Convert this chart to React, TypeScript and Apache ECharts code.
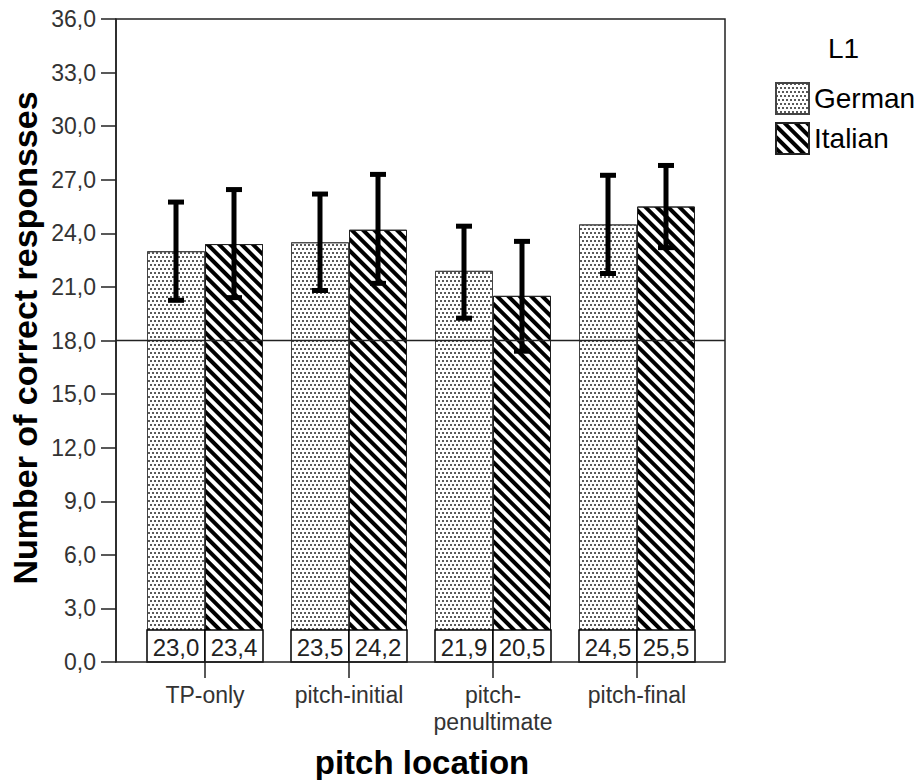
import React, { useEffect, useRef } from 'react';
import * as echarts from 'echarts';

const categories = ['TP-only', 'pitch-initial', 'pitch-\npenultimate', 'pitch-final'];
const groupNames = ['German', 'Italian'];
const germanMeans = [23.0, 23.5, 21.9, 24.5];
const italianMeans = [23.4, 24.2, 20.5, 25.5];
const germanLow = [20.25, 20.8, 19.25, 21.75];
const germanHigh = [25.75, 26.2, 24.4, 27.25];
const italianLow = [20.4, 21.2, 17.4, 23.2];
const italianHigh = [26.45, 27.3, 23.55, 27.8];
const yMin = 0;
const yMax = 36;
const yInterval = 3;
const referenceValue = 18;
const legendTitle = 'L1';
const xTitle = 'pitch location';
const yTitle = 'Number of correct responsses';

const FONT = '"Liberation Sans", Arial, sans-serif';
const BAR_WIDTH = 58;
const LABEL_BOX_H = 32;

const fmt = (v: number) => v.toFixed(1).replace('.', ',');

const germanDecal = {
  symbol: 'rect',
  symbolSize: 1,
  color: '#5a5a5a',
  backgroundColor: '#ffffff',
  dashArrayX: [[1.5, 1.5], [0, 1.5, 1.5, 0]],
  dashArrayY: [1.5, 1.5],
  rotation: 0,
};

const italianDecal = {
  symbol: 'rect',
  symbolSize: 1,
  color: '#000000',
  backgroundColor: '#ffffff',
  dashArrayX: [1, 0],
  dashArrayY: [4, 3.5],
  rotation: Math.PI / 4,
};

function errorSeries(name: string, low: number[], high: number[], side: number) {
  return {
    type: 'custom',
    name,
    xAxisIndex: 1,
    yAxisIndex: 1,
    z: 4,
    encode: { x: 0, y: [1, 2] },
    data: low.map((l, i) => [i, l, high[i]]),
    renderItem: (params: any, api: any) => {
      const idx = api.value(0);
      const lo = api.coord([idx, api.value(1)]);
      const hi = api.coord([idx, api.value(2)]);
      const x = lo[0] + side * BAR_WIDTH / 2;
      const st = { stroke: '#000', lineWidth: 5 };
      return {
        type: 'group',
        children: [
          { type: 'line', shape: { x1: x, y1: lo[1], x2: x, y2: hi[1] }, style: st },
          { type: 'line', shape: { x1: x - 8, y1: lo[1], x2: x + 8, y2: lo[1] }, style: st },
          { type: 'line', shape: { x1: x - 8, y1: hi[1], x2: x + 8, y2: hi[1] }, style: st },
        ],
      };
    },
  };
}

function labelSeries(name: string, values: number[], side: number) {
  return {
    type: 'custom',
    name,
    xAxisIndex: 1,
    yAxisIndex: 1,
    z: 3,
    encode: { x: 0, y: 1 },
    data: values.map((v, i) => [i, v]),
    renderItem: (params: any, api: any) => {
      const idx = api.value(0);
      const base = api.coord([idx, 0]);
      const x0 = base[0] + (side < 0 ? -BAR_WIDTH : 0);
      return {
        type: 'group',
        children: [
          {
            type: 'rect',
            shape: { x: x0, y: base[1] - LABEL_BOX_H, width: BAR_WIDTH, height: LABEL_BOX_H },
            style: { fill: '#fff', stroke: '#000', lineWidth: 1.5 },
          },
          {
            type: 'text',
            x: x0 + BAR_WIDTH / 2,
            y: base[1] - LABEL_BOX_H / 2 + 1,
            style: {
              text: fmt(api.value(1)),
              textAlign: 'center',
              textVerticalAlign: 'middle',
              font: `24px ${FONT}`,
              fill: '#222',
            },
          },
        ],
      };
    },
  };
}

export default function App() {
  const ref = useRef<HTMLDivElement>(null);

  useEffect(() => {
    document.body.style.margin = '0';
    if (!ref.current) return;
    const chart = echarts.init(ref.current, undefined, { renderer: 'svg' });
    const option: any = {
      animation: false,
      backgroundColor: '#fff',
      textStyle: { fontFamily: FONT },
      grid: [
        { left: 116, top: 19, width: 609, height: 643, show: true, borderColor: '#222', borderWidth: 1.5, backgroundColor: 'transparent', z: 6 },
        { left: 133, top: 19, width: 576, height: 643 },
      ],
      xAxis: [
        { gridIndex: 0, type: 'value', min: 0, max: 1, show: false },
        {
          gridIndex: 1,
          type: 'category',
          data: categories,
          axisLine: { show: false },
          axisTick: { show: true, alignWithLabel: true, length: 16, lineStyle: { color: '#222', width: 1.5 } },
          axisLabel: { fontSize: 23, color: '#333', margin: 19, lineHeight: 27, interval: 0, fontFamily: FONT },
          splitLine: { show: false },
        },
      ],
      yAxis: [
        {
          gridIndex: 0,
          type: 'value',
          min: yMin,
          max: yMax,
          interval: yInterval,
          axisLine: { show: true, lineStyle: { color: '#222', width: 1.5 } },
          axisTick: { show: true, length: 15, lineStyle: { color: '#222', width: 1.5 } },
          axisLabel: { fontSize: 23, color: '#333', margin: 20, fontFamily: FONT, formatter: (v: number) => fmt(v) },
          splitLine: { show: false },
        },
        { gridIndex: 1, type: 'value', min: yMin, max: yMax, interval: yInterval, show: false, splitLine: { show: false } },
      ],
      legend: {
        data: groupNames,
        orient: 'vertical',
        left: 770,
        top: 77,
        itemWidth: 33,
        itemHeight: 31,
        itemGap: 7,
        icon: 'rect',
        textStyle: { fontSize: 28, color: '#000', fontFamily: FONT },
      },
      title: {
        text: legendTitle,
        left: 823,
        top: 29,
        textStyle: { fontSize: 28, fontWeight: 'normal', color: '#000', fontFamily: FONT },
      },
      graphic: [
        {
          type: 'text',
          x: 422,
          y: 762,
          style: { text: xTitle, font: `bold 33px ${FONT}`, textAlign: 'center', textVerticalAlign: 'middle', fill: '#000' },
        },
        {
          type: 'text',
          x: 25,
          y: 338,
          rotation: Math.PI / 2,
          style: { text: yTitle, font: `bold 34px ${FONT}`, textAlign: 'center', textVerticalAlign: 'middle', fill: '#000' },
        },
      ],
      series: [
        {
          type: 'bar',
          name: groupNames[0],
          xAxisIndex: 1,
          yAxisIndex: 1,
          data: germanMeans,
          barWidth: BAR_WIDTH,
          barGap: '0%',
          z: 2,
          itemStyle: { color: '#fff', borderColor: '#444', borderWidth: 1, decal: germanDecal },
        },
        {
          type: 'bar',
          name: groupNames[1],
          xAxisIndex: 1,
          yAxisIndex: 1,
          data: italianMeans,
          barWidth: BAR_WIDTH,
          barGap: '0%',
          z: 2,
          itemStyle: { color: '#fff', borderColor: '#222', borderWidth: 1, decal: italianDecal },
        },
        labelSeries('labels-German', germanMeans, -1),
        labelSeries('labels-Italian', italianMeans, 1),
        errorSeries('err-German', germanLow, germanHigh, -1),
        errorSeries('err-Italian', italianLow, italianHigh, 1),
        {
          type: 'line',
          name: 'reference',
          xAxisIndex: 0,
          yAxisIndex: 0,
          data: [[0, referenceValue], [1, referenceValue]],
          symbol: 'none',
          z: 5,
          lineStyle: { color: '#222', width: 1.5 },
          silent: true,
        },
      ],
    };
    chart.setOption(option);
    return () => chart.dispose();
  }, []);

  return <div ref={ref} style={{ width: 918, height: 780 }} />;
}
